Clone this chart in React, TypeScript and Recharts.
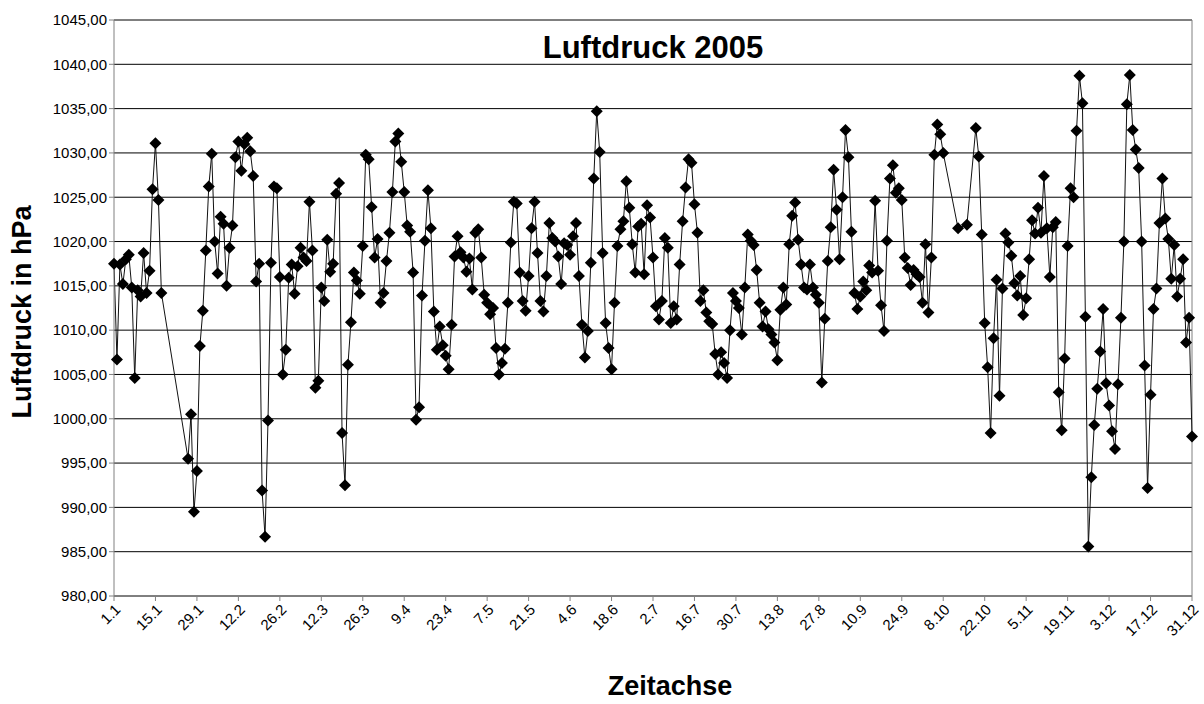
import { LineChart, Line, XAxis, YAxis, CartesianGrid, ReferenceLine } from 'recharts'

// Tagesmittel Luftdruck 2005 in hPa (null = kein Messwert)
const jan = [1017.5, 1006.7, 1017.4, 1015.2, 1018.0, 1018.5, 1014.8, 1004.6, 1014.5, 1013.8, 1018.7, 1014.2, 1016.7, 1025.9, 1031.1, 1024.7, 1014.2, null, null, null, null, null, null, null, null, 995.5, 1000.5, 989.5, 994.1, 1008.2, 1012.2]
const feb = [1019.0, 1026.2, 1029.9, 1020.0, 1016.4, 1022.8, 1022.0, 1015.0, 1019.3, 1021.8, 1029.5, 1031.3, 1028.0, 1031.0, 1031.7, 1030.2, 1027.4, 1015.5, 1017.5, 991.9, 986.7, 999.8, 1017.6, 1026.2, 1026.0, 1016.0, 1005.0, 1007.8]
const mar = [1015.9, 1017.4, 1014.1, 1017.2, 1019.3, 1018.2, 1017.8, 1024.5, 1019.0, 1003.5, 1004.3, 1014.8, 1013.3, 1020.2, 1016.6, 1017.5, 1025.4, 1026.6, 998.4, 992.5, 1006.1, 1010.9, 1016.5, 1015.6, 1014.1, 1019.5, 1029.8, 1029.3, 1023.9, 1018.2, 1020.3]
const apr = [1013.1, 1014.2, 1017.8, 1021.0, 1025.6, 1031.3, 1032.2, 1029.0, 1025.6, 1021.8, 1021.1, 1016.5, 999.9, 1001.3, 1013.9, 1020.1, 1025.8, 1021.5, 1012.1, 1007.8, 1010.4, 1008.3, 1007.1, 1005.6, 1010.6, 1018.3, 1020.6, 1018.8, 1018.2, 1016.6]
const mai = [1018.1, 1014.6, 1021.0, 1021.4, 1018.2, 1014.0, 1013.1, 1011.8, 1012.5, 1008.0, 1005.0, 1006.3, 1007.9, 1013.1, 1019.9, 1024.5, 1024.3, 1016.5, 1013.3, 1012.2, 1016.1, 1021.5, 1024.5, 1018.7, 1013.3, 1012.1, 1016.1, 1022.1, 1020.4, 1020.0, 1018.3]
const jun = [1015.2, 1019.8, 1019.6, 1018.5, 1020.6, 1022.1, 1016.1, 1010.6, 1006.9, 1009.9, 1017.6, 1027.1, 1034.7, 1030.1, 1018.7, 1010.8, 1008.0, 1005.6, 1013.1, 1019.5, 1021.4, 1022.3, 1026.8, 1023.8, 1019.7, 1016.5, 1021.7, 1022.0, 1016.3, 1024.1]
const jul = [1022.7, 1018.2, 1012.7, 1011.2, 1013.3, 1020.4, 1019.3, 1010.8, 1012.7, 1011.2, 1017.4, 1022.3, 1026.1, 1029.3, 1028.9, 1024.2, 1021.0, 1013.3, 1014.5, 1012.0, 1011.0, 1010.7, 1007.3, 1005.0, 1007.5, 1006.3, 1004.6, 1010.0, 1014.2, 1013.3, 1012.5]
const aug = [1009.5, 1014.8, 1020.8, 1020.1, 1019.6, 1016.8, 1013.1, 1010.4, 1012.1, 1010.1, 1009.5, 1008.6, 1006.6, 1012.3, 1014.8, 1012.9, 1019.7, 1022.9, 1024.4, 1020.2, 1017.4, 1014.8, 1014.6, 1017.4, 1014.8, 1014.0, 1013.1, 1004.1, 1011.3, 1017.8, 1021.6]
const sep = [1028.1, 1023.6, 1018.0, 1025.0, 1032.6, 1029.5, 1021.1, 1014.2, 1012.4, 1013.8, 1015.5, 1014.5, 1017.3, 1016.5, 1024.6, 1016.7, 1012.8, 1009.9, 1020.1, 1027.1, 1028.6, 1025.5, 1026.0, 1024.7, 1018.2, 1017.0, 1015.1, 1016.8, 1016.3, 1016.0]
const okt = [1013.1, 1019.7, 1012.0, 1018.2, 1029.8, 1033.2, 1032.1, 1030.0, null, null, null, null, 1021.5, null, null, 1021.9, null, null, 1032.8, 1029.6, 1020.8, 1010.8, 1005.8, 998.4, 1009.1, 1015.7, 1002.6, 1014.7, 1020.9, 1019.9, 1018.4]
const nov = [1015.3, 1013.9, 1016.1, 1011.7, 1013.6, 1018.0, 1022.4, 1020.9, 1023.8, 1021.0, 1027.4, 1021.5, 1016.0, 1021.6, 1022.2, 1003.0, 998.7, 1006.8, 1019.5, 1026.0, 1025.0, 1032.5, 1038.7, 1035.6, 1011.5, 985.6, 993.4, 999.3, 1003.4, 1007.6]
const dez = [1012.4, 1004.0, 1001.5, 998.6, 996.6, 1003.9, 1011.4, 1020.0, 1035.5, 1038.8, 1032.6, 1030.4, 1028.3, 1020.0, 1006.0, 992.2, 1002.7, 1012.4, 1014.7, 1022.1, 1027.1, 1022.6, 1020.3, 1015.8, 1019.6, 1013.8, 1015.8, 1018.0, 1008.6, 1011.4, 998.0]

const xTicks = ['1.1', '15.1', '29.1', '12.2', '26.2', '12.3', '26.3', '9.4', '23.4', '7.5', '21.5', '4.6', '18.6', '2.7', '16.7', '30.7', '13.8', '27.8', '10.9', '24.9', '8.10', '22.10', '5.11', '19.11', '3.12', '17.12', '31.12']
const yTicks = [980, 985, 990, 995, 1000, 1005, 1010, 1015, 1020, 1025, 1030, 1035, 1040, 1045]

const monate = [jan, feb, mar, apr, mai, jun, jul, aug, sep, okt, nov, dez]
const data = monate.flatMap((werte, m) =>
  werte.map((v, i) => ({ datum: `${i + 1}.${m + 1}`, luftdruck: v })),
)

const font = "'Liberation Sans', Arial, sans-serif"

function Raute(props: any) {
  const { cx, cy, index } = props
  if (cx == null || cy == null || props.value == null) return <g key={index} />
  const r = 6
  return (
    <path
      key={index}
      d={`M${cx},${cy - r}L${cx + r},${cy}L${cx},${cy + r}L${cx - r},${cy}Z`}
      fill="#000"
    />
  )
}

export default function App() {
  return (
    <div style={{ position: 'absolute', left: 0, top: 0, width: 1204, height: 704, background: '#fff', fontFamily: font }}>
      <LineChart
        width={1204}
        height={704}
        data={data}
        margin={{ top: 20, right: 12, bottom: 38, left: 34 }}
      >
        <CartesianGrid vertical={false} stroke="#000" strokeWidth={1} />
        <XAxis
          dataKey="datum"
          type="category"
          scale="point"
          ticks={xTicks}
          interval={0}
          height={70}
          stroke="#808080"
          tickSize={5}
          angle={-45}
          textAnchor="end"
          tick={{ fill: '#000', fontSize: 15, fontFamily: font }}
        />
        <YAxis
          domain={[980, 1045]}
          ticks={yTicks}
          interval={0}
          width={80}
          stroke="#808080"
          tickSize={5}
          tickFormatter={(v: number) => v.toFixed(2).replace('.', ',')}
          tick={{ fill: '#000', fontSize: 15, fontFamily: font }}
        />
        <ReferenceLine x="31.12" stroke="#808080" />
        <Line
          type="linear"
          dataKey="luftdruck"
          stroke="#111"
          strokeWidth={1}
          connectNulls
          dot={Raute}
          activeDot={false}
          isAnimationActive={false}
        />
      </LineChart>
      <div style={{ position: 'absolute', left: 114, width: 1078, top: 30, textAlign: 'center', fontSize: 31, fontWeight: 'bold' }}>
        Luftdruck 2005
      </div>
      <div style={{ position: 'absolute', left: 550, width: 240, top: 671, textAlign: 'center', fontSize: 27, fontWeight: 'bold' }}>
        Zeitachse
      </div>
      <div
        style={{
          position: 'absolute',
          left: 22,
          top: 312,
          transform: 'translate(-50%, -50%) rotate(-90deg)',
          whiteSpace: 'nowrap',
          fontSize: 27,
          fontWeight: 'bold',
        }}
      >
        Luftdruck in hPa
      </div>
    </div>
  )
}
